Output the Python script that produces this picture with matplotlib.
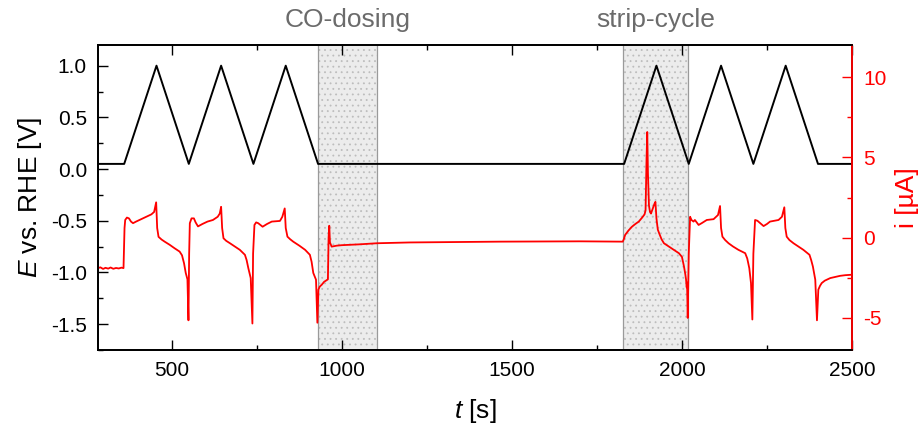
import matplotlib
matplotlib.use("Agg")
import matplotlib.pyplot as plt
from matplotlib.ticker import MultipleLocator
import matplotlib.transforms as mtransforms

plt.rcParams['font.family'] = ['Liberation Sans', 'DejaVu Sans']
plt.rcParams['mathtext.fontset'] = 'custom'
plt.rcParams['mathtext.it'] = 'Liberation Sans:italic'
plt.rcParams['mathtext.rm'] = 'Liberation Sans'
plt.rcParams['axes.unicode_minus'] = False
plt.rcParams['hatch.linewidth'] = 0.6

# potential programme (vertices), V vs. RHE
E_t = [283, 360, 455, 550, 645, 740, 835, 930, 1830, 1925, 2020, 2115, 2210, 2305, 2400, 2500]
E_v = [0.05, 0.05, 1.0, 0.05, 1.0, 0.05, 1.0, 0.05, 0.05, 1.0, 0.05, 1.0, 0.05, 1.0, 0.05, 0.05]

# current trace, uA
i_t = [283, 290, 298, 305, 313, 320, 328, 336, 344, 352, 358,
       361, 363, 368, 374, 380, 386, 395, 410, 425, 440, 448, 454, 457, 461,
       470, 479, 494, 508, 523, 530, 536, 541, 546, 549, 551,
       553, 558, 565, 570, 577, 590, 605, 621, 635, 641, 645, 648, 652,
       660, 671, 685, 700, 715, 720, 725, 732, 737, 739,
       743, 748, 754, 767, 780, 794, 818, 825, 832, 835, 840,
       848, 857, 875, 892, 906, 911, 916, 924, 928, 931, 935, 941, 948, 955, 959,
       961, 963, 965, 970, 985, 1000, 1050, 1103, 1200, 1300, 1465, 1600, 1700, 1826,
       1829, 1833, 1843, 1853, 1863, 1873, 1883, 1890, 1893, 1896, 1898, 1900, 1903,
       1906, 1909, 1914, 1919, 1922, 1925, 1929, 1933, 1940, 1947, 1961, 1976, 1991,
       2000, 2006, 2010, 2012, 2014, 2015, 2017, 2020,
       2024, 2028, 2034, 2038, 2049, 2058, 2073, 2093, 2106, 2112, 2115, 2119,
       2127, 2137, 2150, 2166, 2186, 2192, 2198, 2203, 2207, 2210,
       2215, 2222, 2230, 2240, 2250, 2259, 2284, 2294, 2301, 2304, 2308,
       2316, 2328, 2342, 2357, 2375, 2380, 2385, 2392, 2397, 2401, 2406, 2411,
       2420, 2436, 2450, 2465, 2480, 2500]
i_val = [-1.9, -1.85, -1.95, -1.88, -1.93, -1.86, -1.94, -1.89, -1.92, -1.87, -1.9,
         0.6, 1.1, 1.25, 1.2, 1.0, 0.9, 1.0, 1.15, 1.3, 1.45, 1.6, 2.2, 0.6, 0.05,
         -0.12, -0.25, -0.45, -0.66, -0.87, -1.1, -1.6, -2.2, -2.6, -5.15, -1.0,
         0.9, 1.2, 1.2, 0.95, 0.7, 0.85, 1.0, 1.1, 1.3, 1.5, 1.92, 0.6, -0.04,
         -0.2, -0.35, -0.55, -0.76, -1.07, -1.4, -1.9, -2.52, -5.35, -1.0,
         0.79, 0.95, 0.9, 0.68, 0.85, 1.0, 1.04, 1.3, 1.82, 0.6, 0.06,
         -0.1, -0.25, -0.5, -0.76, -1.07, -1.5, -2.2, -2.62, -5.3, -3.24, -3.05, -2.93, -2.75, -2.65, -2.6,
         0.0, 0.74, -0.3, -0.56, -0.5, -0.47, -0.42, -0.35, -0.3, -0.28, -0.25, -0.24, -0.23, -0.25,
         -0.1, 0.17, 0.45, 0.68, 0.85, 1.0, 1.25, 1.45, 1.7, 5.0, 6.58, 4.0, 2.0,
         1.6, 1.5, 1.8, 2.1, 2.23, 1.2, 0.5, 0.27, -0.1, -0.35, -0.55, -0.76, -0.97,
         -1.2, -1.8, -2.3, -2.6, -3.1, -2.8, -5.0, -1.0,
         1.3, 1.1, 1.0, 1.1, 0.79, 0.9, 1.1, 1.15, 1.41, 1.97, 0.6, 0.06,
         -0.15, -0.35, -0.55, -0.76, -0.97, -1.3, -1.9, -2.83, -5.1, -1.0,
         1.1, 1.05, 0.9, 0.72, 0.85, 1.0, 1.1, 1.3, 1.89, 0.6, 0.06,
         -0.15, -0.35, -0.55, -0.76, -1.07, -1.4, -1.8, -2.62, -5.15, -3.24, -3.0, -2.83,
         -2.68, -2.52, -2.45, -2.38, -2.34, -2.31]

# shaded periods (s) and their labels
regions = [(930, 1103), (1827, 2017)]
region_labels = ["CO-dosing", "strip-cycle"]

RED = '#ff0000'

fig = plt.figure(figsize=(9.21, 4.25), dpi=100)
ax = fig.add_axes([98 / 921, 1 - 350 / 425, 754 / 921, 305 / 425])
ax2 = ax.twinx()

trans = mtransforms.blended_transform_factory(ax.transData, ax.transAxes)
for (a, b), lab in zip(regions, region_labels):
    # dotted grey band, border lines drawn separately
    ax.axvspan(a, b, facecolor='#ececec', edgecolor='#bdbdbd', hatch='...', lw=0, zorder=0)
    ax.axvline(a, color='#9a9a9a', lw=0.9, zorder=1)
    ax.axvline(b, color='#9a9a9a', lw=0.9, zorder=1)
    ax.text((a + b) / 2, 1.059, lab, transform=trans, ha='center', va='baseline',
            fontsize=19, color='#6b6b6b')

ax.plot(E_t, E_v, color='black', lw=1.4, zorder=3)
ax2.plot(i_t, i_val, color=RED, lw=1.3)

ax.set_xlim(283, 2500)
ax.set_ylim(-1.75, 1.2)
ax2.set_ylim(-7, 12)

ax.xaxis.set_major_locator(MultipleLocator(500))
ax.xaxis.set_minor_locator(MultipleLocator(250))
ax.yaxis.set_major_locator(MultipleLocator(0.5))
ax.yaxis.set_minor_locator(MultipleLocator(0.25))
ax2.yaxis.set_major_locator(MultipleLocator(5))
ax2.yaxis.set_minor_locator(MultipleLocator(2.5))

ax.tick_params(which='both', direction='in', top=True, right=False, width=1.0, labelsize=15, pad=8)
ax.tick_params(which='major', length=7)
ax.tick_params(which='minor', length=3.5)
ax2.tick_params(which='both', direction='in', colors=RED, width=1.0, labelsize=15, pad=8)
ax2.tick_params(which='major', length=7)
ax2.tick_params(which='minor', length=3.5)

for sp in ax.spines.values():
    sp.set_linewidth(1.3)
for sp in ax2.spines.values():
    sp.set_linewidth(1.3)
ax2.spines['right'].set_color(RED)

ax.set_xlabel('$t$ [s]', fontsize=19)
ax.set_ylabel('$E$ vs. RHE [V]', fontsize=19)
ax2.set_ylabel('i [µA]', fontsize=19, color=RED)
ax.xaxis.set_label_coords(0.5, -0.155)
ax.yaxis.set_label_coords(-0.09, 0.5)
ax2.yaxis.set_label_coords(1.073, 0.5)
ax.yaxis.label.set_verticalalignment('center')
ax2.yaxis.label.set_verticalalignment('center')

fig.savefig('out.png', dpi=100)
